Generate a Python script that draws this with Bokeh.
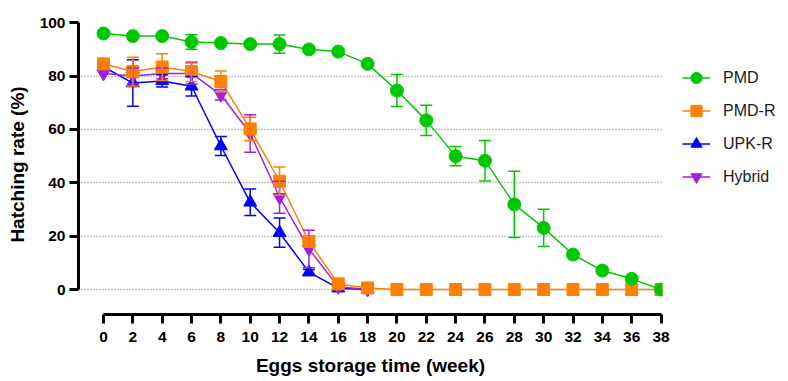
from bokeh.plotting import figure
from bokeh.models import (ColumnDataSource, Whisker, TeeHead, Legend, LegendItem,
                          FixedTicker, Range1d)
from bokeh.embed import file_html
from bokeh.resources import INLINE

# ---------------- data ----------------
weeks = [0, 2, 4, 6, 8, 10, 12, 14, 16, 18, 20, 22, 24, 26, 28, 30, 32, 34, 36, 38]
weeks_short = [0, 2, 4, 6, 8, 10, 12, 14, 16, 18]

pmd = [96, 95, 95, 92.8, 92.4, 92, 92, 90, 89.2, 84.6, 74.6, 63.4, 50, 48.3, 31.9, 23.1, 13.1, 7.1, 4.0, 0]
pmd_err = [0, 0, 0, 2.7, 0, 0, 3.4, 0, 0, 0, 6, 5.7, 3.6, 7.6, 12.4, 7, 0, 0, 0, 0]

pmdr = [84.6, 81.7, 83.4, 81.7, 78, 60.2, 40.6, 18, 2.1, 0.6, 0, 0, 0, 0, 0, 0, 0, 0, 0, 0]
pmdr_err = [0, 5.4, 5, 3.7, 3.9, 4.4, 5.3, 2, 0, 0, 0, 0, 0, 0, 0, 0, 0, 0, 0, 0]

upkr = [83.5, 77.4, 78.2, 76.2, 53.8, 32.7, 21.3, 6.5, 0.5, 0]
upkr_err = [0, 8.7, 2.3, 3.7, 3.6, 5, 5.5, 1, 0, 0]

hybrid = [81, 80, 81, 81, 73, 58.5, 34.6, 15.2, 1, 0]
hybrid_err = [0, 3, 2, 4, 2, 7, 6, 7, 0, 0]

series_names = ["PMD", "PMD-R", "UPK-R", "Hybrid"]
x_ticks = [0, 2, 4, 6, 8, 10, 12, 14, 16, 18, 20, 22, 24, 26, 28, 30, 32, 34, 36, 38]
y_ticks = [0, 20, 40, 60, 80, 100]
grid_ticks = [0, 20, 40, 60, 80]

# ---------------- figure ----------------
FONT = "Liberation Sans"
p = figure(frame_width=584, frame_height=300,
           x_range=Range1d(-1.704, 38.1), y_range=Range1d(-9.37, 103.1),
           output_backend="svg", toolbar_location=None,
           min_border_left=78, min_border_top=14, min_border_right=108, min_border_bottom=4)
p.outline_line_color = None
p.background_fill_color = "white"
p.border_fill_color = "white"

p.xgrid.visible = False
p.ygrid.ticker = FixedTicker(ticks=grid_ticks)
p.ygrid.grid_line_color = "#8c8c8c"
p.ygrid.grid_line_dash = "1 2"
p.ygrid.grid_line_width = 1.5

for ax in (p.xaxis[0], p.yaxis[0]):
    ax.axis_line_width = 3
    ax.axis_line_color = "black"
    ax.major_tick_line_width = 3
    ax.major_tick_line_color = "black"
    ax.major_tick_in = 0
    ax.major_tick_out = 9
    ax.minor_tick_line_color = None
    ax.major_label_text_font = FONT
    ax.major_label_text_font_style = "bold"
    ax.major_label_text_font_size = "15.5px"
    ax.major_label_text_color = "black"
    ax.axis_label_text_font = FONT
    ax.axis_label_text_font_style = "bold"
    ax.axis_label_text_font_size = "19px"
    ax.axis_label_text_color = "black"

p.xaxis.ticker = FixedTicker(ticks=x_ticks)
p.yaxis.ticker = FixedTicker(ticks=y_ticks)
p.xaxis.bounds = (0, 38)
p.yaxis.bounds = (0, 100)
p.xaxis.axis_label = "Eggs storage time (week)"
p.yaxis.axis_label = "Hatching rate (%)"
p.xaxis.major_label_standoff = 8
p.xaxis.axis_label_standoff = 10
p.yaxis.major_label_standoff = 4
p.yaxis.axis_label_standoff = 9

colors = {"PMD": "#00c800", "PMD-R": "#ff8000", "UPK-R": "#0000ff", "Hybrid": "#a020e0"}
markers = {"PMD": "circle", "PMD-R": "square", "UPK-R": "triangle", "Hybrid": "inverted_triangle"}
sizes = {"PMD": 13, "PMD-R": 12, "UPK-R": 13, "Hybrid": 13}

data = {
    "UPK-R": (weeks_short, upkr, upkr_err),
    "Hybrid": (weeks_short, hybrid, hybrid_err),
    "PMD-R": (weeks, pmdr, pmdr_err),
    "PMD": (weeks, pmd, pmd_err),
}

items = {}
for name in ["UPK-R", "Hybrid", "PMD-R", "PMD"]:
    xs, ys, es = data[name]
    c = colors[name]
    # error bars (only where visible)
    ex = [x for x, e in zip(xs, es) if e > 0]
    eu = [y + e for y, e in zip(ys, es) if e > 0]
    el = [y - e for y, e in zip(ys, es) if e > 0]
    esrc = ColumnDataSource(dict(x=ex, upper=eu, lower=el))
    w = Whisker(source=esrc, base="x", upper="upper", lower="lower", dimension="height",
                line_color=c, line_width=1.5, level="glyph",
                upper_head=TeeHead(size=12, line_color=c, line_width=1.5),
                lower_head=TeeHead(size=12, line_color=c, line_width=1.5))
    p.add_layout(w)
    src = ColumnDataSource(dict(x=xs, y=ys))
    lr = p.line("x", "y", source=src, line_color=c, line_width=1.5)
    sr = p.scatter("x", "y", source=src, marker=markers[name], size=sizes[name],
                   fill_color=c, line_color=c)
    items[name] = LegendItem(label=name, renderers=[lr, sr])

legend = Legend(items=[items[n] for n in series_names],
                location=(20, 121), orientation="vertical",
                glyph_width=28, glyph_height=33, spacing=0, padding=0, margin=0,
                label_standoff=13, label_text_font=FONT, label_text_font_size="16px",
                label_text_color="#1a1a1a", border_line_color=None,
                background_fill_alpha=0)
p.add_layout(legend, "right")

open("out.html", "w").write(file_html(p, INLINE))
